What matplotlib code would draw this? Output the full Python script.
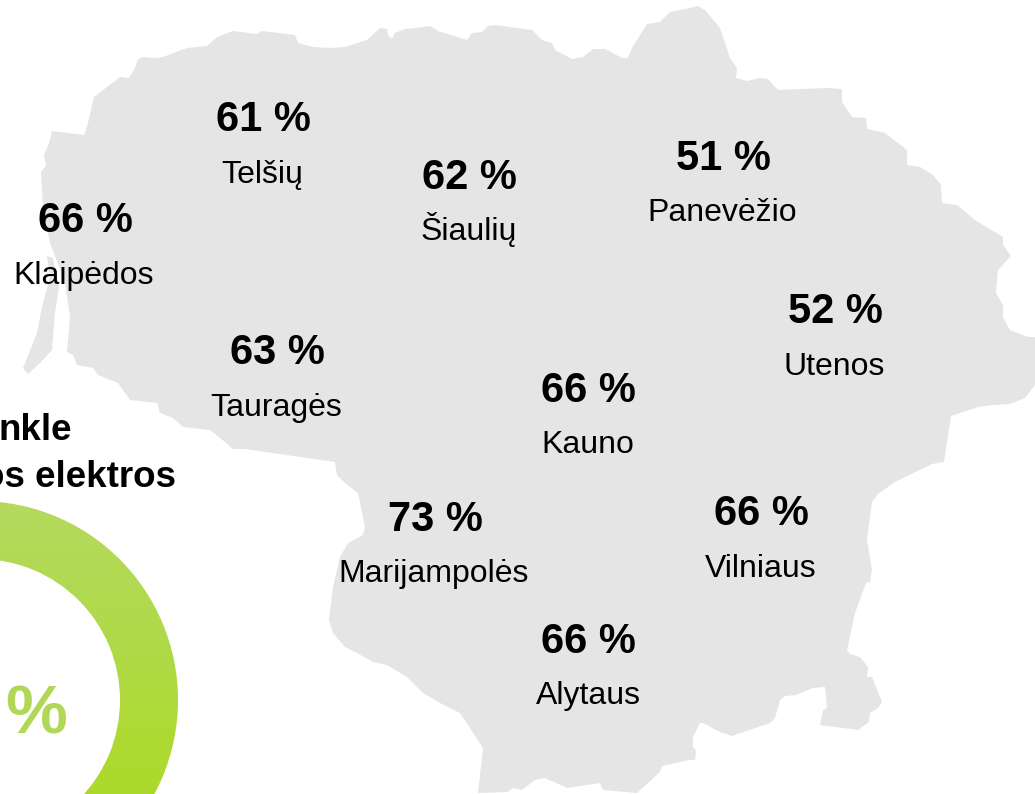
import numpy as np
import matplotlib
matplotlib.use("Agg")
import matplotlib.pyplot as plt
from matplotlib.patches import Polygon, Wedge
from matplotlib.colors import LinearSegmentedColormap

plt.rcParams['font.family'] = ['Liberation Sans', 'DejaVu Sans']

# Data
regions = ["Klaipėdos", "Telšių", "Šiaulių", "Panevėžio", "Utenos",
           "Tauragės", "Kauno", "Vilniaus", "Marijampolės", "Alytaus"]
values = [66, 61, 62, 51, 52, 63, 66, 66, 73, 66]

# Text anchor positions, in picture pixels
value_x = [85, 263, 469, 723, 835, 277, 588, 761, 435, 588]
value_y = [232, 131, 189, 170, 323, 364, 402, 525, 531, 653]
label_x = [84, 262, 469, 722, 834, 276, 588, 761, 434, 588]
label_y = [284, 183, 240, 221, 375, 416, 453, 577, 582, 704]

title_lines = ["nkle", "os elektros"]
title_right = [72, 176]
title_base = [440, 487]

# Outline of the country, in picture pixels
outline = [
    (52,131),(84,135),(88,123),(94,97),(120,77),(129,78),(135,68),(138,59),(143,57),(155,58),
    (163,57),(187,48),(207,46),(217,37),(233,31),(257,34),(262,31),(295,35),(298,43),(313,47),
    (330,48),(345,47),(367,40),(380,28),(387,29),(388,35),(392,39),(395,33),(405,29),(415,28),
    (430,26),(438,31),(467,40),(472,33),(482,32),(488,26),(495,25),(532,30),(542,40),(552,43),
    (555,50),(572,59),(583,57),(593,49),(605,49),(622,58),(628,58),(632,48),(647,24),(660,22),
    (670,12),(690,8),(698,6),(705,10),(720,28),(730,58),(737,68),(736,78),(747,81),(760,78),
    (768,79),(778,90),(827,88),(842,89),(842,102),(852,117),(866,118),(867,129),(885,133),(907,150),
    (907,165),(920,167),(933,175),(941,185),(942,203),(957,205),(975,220),(1003,237),(1003,245),(1011,256),
    (998,270),(996,293),(1003,305),(1003,317),(1010,330),(1028,337),(1035,337),(1035,385),(1025,398),(1010,404),
    (993,405),(978,407),(951,416),(944,462),(932,464),(895,482),(878,494),(872,502),(867,540),(872,570),
    (870,582),(866,583),(855,613),(847,650),(850,654),(860,657),(868,667),(867,677),(872,677),(882,702),
    (878,708),(870,713),(869,722),(858,730),(820,725),(823,710),(827,708),(825,687),(813,688),(796,695),
    (785,696),(780,700),(775,718),(770,723),(732,736),(720,732),(703,723),(700,723),(693,737),(693,747),
    (696,750),(695,760),(690,760),(662,766),(660,772),(637,793),(603,790),(600,783),(567,788),(545,778),
    (535,780),(522,790),(513,788),(508,792),(478,793),(483,748),(470,728),(460,713),(440,703),(423,693),
    (407,677),(387,665),(373,662),(357,653),(345,647),(333,633),(329,620),(333,587),(340,557),(348,543),
    (363,535),(365,527),(358,493),(345,483),(337,475),(335,462),(245,449),(233,449),(225,442),(210,430),
    (183,427),(173,418),(160,413),(157,403),(130,400),(118,383),(98,375),(93,368),(77,365),(73,355),
    (67,352),(70,317),(65,283),(50,243),(43,207),(41,172),(46,166),(44,155),(49,143),
]
spit = [(47,256),(53,258),(59,287),(55,313),(52,350),(40,363),(28,374),(23,368),(37,333),(42,307),(50,277)]

fig = plt.figure(figsize=(10.35, 7.94), dpi=100, facecolor="white")
ax = fig.add_axes([0, 0, 1, 1])
ax.set_xlim(0, 1035)
ax.set_ylim(794, 0)
ax.axis("off")

ax.add_patch(Polygon(outline, closed=True, fc="#e5e5e5", ec="none", zorder=1))
ax.add_patch(Polygon(spit, closed=True, fc="#e5e5e5", ec="none", zorder=1))

# Ring with a vertical gradient
cx, cy, r_out, r_in = -21, 700, 199, 141
cmap = LinearSegmentedColormap.from_list("ring", ["#b5d95e", "#b0d94a", "#aeda2e", "#a8d326"])
grad = np.linspace(0, 1, 256).reshape(-1, 1)
im = ax.imshow(grad, cmap=cmap, extent=[-30, 190, 900, 500], aspect="auto", zorder=2,
               interpolation="bilinear")
ring = Wedge((cx, cy), r_out, 0, 360, width=r_out - r_in, transform=ax.transData, fc="none", ec="none")
ax.add_patch(ring)
im.set_clip_path(ring)
ax.set_xlim(0, 1035)
ax.set_ylim(794, 0)

ax.text(67, 733, "%", fontsize=50, fontweight="bold", color="#b0d755", ha="right", va="baseline", zorder=3)

for line, x, y in zip(title_lines, title_right, title_base):
    ax.text(x, y, line, fontsize=26.5, fontweight="bold", color="black", ha="right", va="baseline", zorder=3)

for name, v, vx, vy, lx, ly in zip(regions, values, value_x, value_y, label_x, label_y):
    ax.text(vx, vy, f"{v} %", fontsize=30, fontweight="bold", color="black", ha="center", va="baseline", zorder=3)
    ax.text(lx, ly, name, fontsize=23, color="black", ha="center", va="baseline", zorder=3)

fig.savefig("out.png", dpi=100, facecolor="white")
